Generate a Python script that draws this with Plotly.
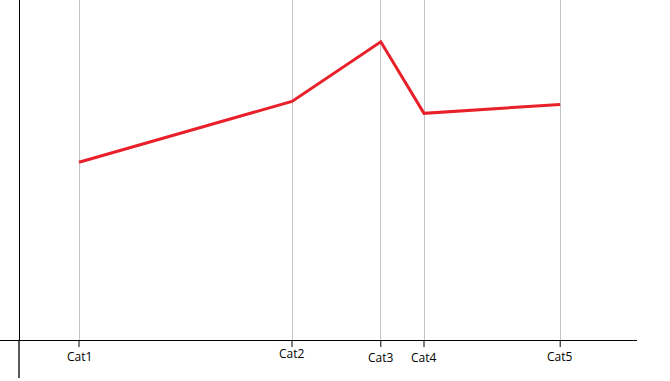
import plotly.graph_objects as go

categories = ["Cat1", "Cat2", "Cat3", "Cat4", "Cat5"]
x_values = [10, 45.5, 60.3, 67.5, 90.2]
y_values = [29.8, 40, 50, 38, 39.5]
label_drop = [6, 3, 7, 7, 6]  # pixel offset of each category label below the axis

W, H = 670, 381
L, R, T, B = 0, 33, 0, 41
ph = H - T - B

fig = go.Figure()
fig.add_trace(go.Scatter(x=x_values, y=y_values, mode="lines",
                         line=dict(color="#e8202a", width=3), hoverinfo="skip"))

fig.update_layout(
    width=W, height=H, margin=dict(l=L, r=R, t=T, b=B),
    paper_bgcolor="white", plot_bgcolor="white", showlegend=False,
    font=dict(family="Open Sans", size=12, color="#000"),
    xaxis=dict(range=[-19 / 6, 103], tickvals=x_values, ticktext=[""] * len(x_values),
               showgrid=True, gridcolor="#c4c4c4", gridwidth=1,
               ticks="", showline=True, linecolor="#000", linewidth=1.3,
               zeroline=True, zerolinecolor="#000", zerolinewidth=1.3,
               fixedrange=True),
    yaxis=dict(range=[0, 57], showticklabels=False, showgrid=False,
               showline=False, zeroline=False, ticks="", fixedrange=True),
)
for xv, txt, d in zip(x_values, categories, label_drop):
    fig.add_annotation(x=xv, y=0, xref="x", yref="paper", text=txt,
                       showarrow=False, xanchor="center", yanchor="top",
                       yshift=-d, font=dict(family="Open Sans", size=12, color="#000"))
    # short dark tick mark below the horizontal axis
    fig.add_shape(type="line", xref="x", yref="paper", x0=xv, x1=xv,
                  y0=0, y1=-7 / ph, line=dict(color="#000", width=1))
# vertical axis continues below the horizontal axis
fig.add_shape(type="line", xref="x", yref="paper",
              x0=0, x1=0, y0=0, y1=-38 / ph, line=dict(color="#000", width=1.3))

fig.write_html("out.html")
